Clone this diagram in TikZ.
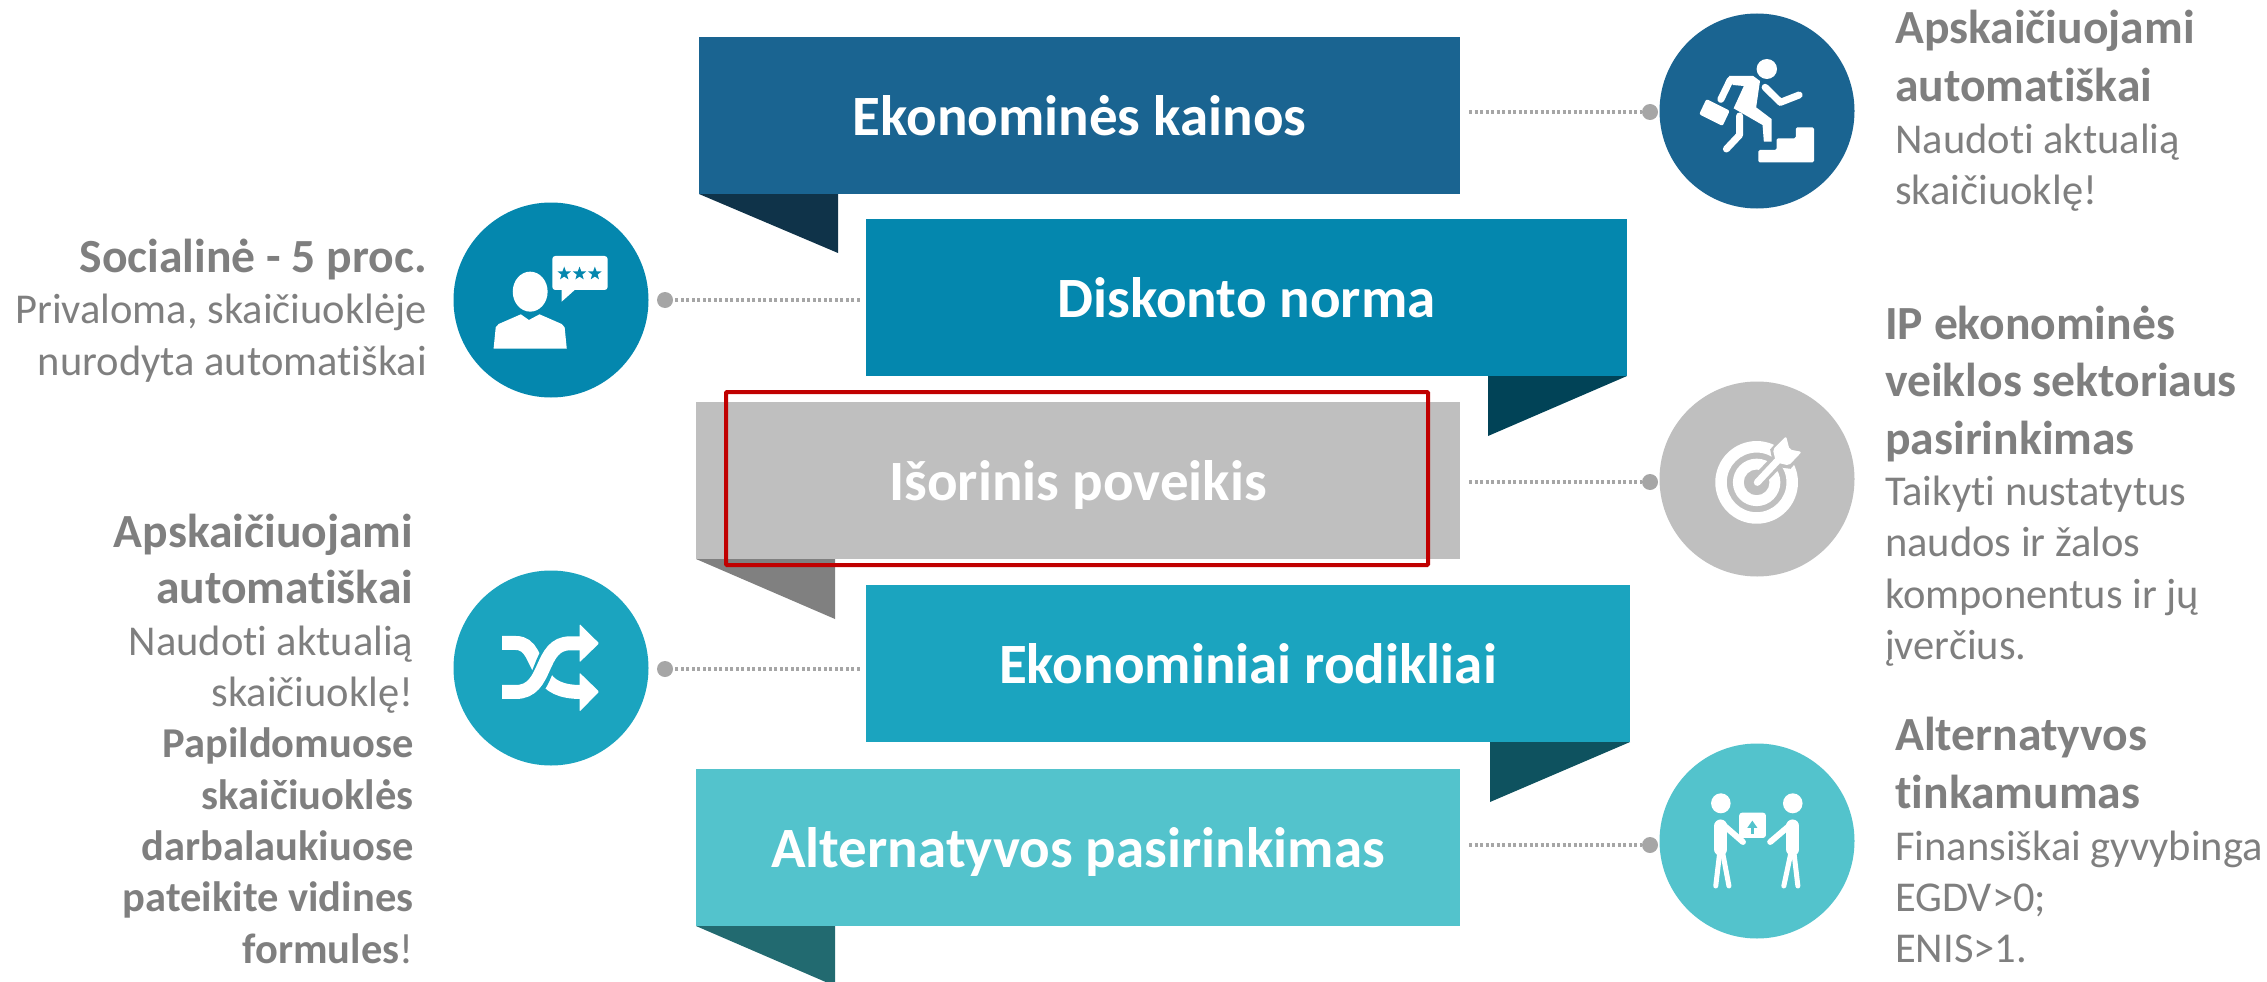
\documentclass[tikz,border=0pt]{standalone}
\usepackage{fontspec}
\setmainfont[Ligatures=NoCommon]{Carlito}
\usetikzlibrary{shapes.geometric}
\definecolor{cA}{HTML}{1A6491}
\definecolor{cB}{HTML}{0487AE}
\definecolor{cC}{HTML}{BFBFBF}
\definecolor{cD}{HTML}{1BA4BF}
\definecolor{cE}{HTML}{53C3CC}
\definecolor{tA}{HTML}{0F3349}
\definecolor{tB}{HTML}{014357}
\definecolor{tC}{HTML}{808080}
\definecolor{tD}{HTML}{0E525F}
\definecolor{tE}{HTML}{226A70}
\definecolor{txtgray}{HTML}{7F7F7F}
\definecolor{dotgray}{HTML}{A6A6A6}
\definecolor{redbox}{HTML}{C00000}
\newcommand{\hd}[1]{{\fontsize{47.6}{51}\selectfont\bfseries #1}}
\tikzset{
 band/.style={rectangle,inner sep=0pt,text=white,font=\fontsize{57}{60}\selectfont\bfseries,text height=49pt,text depth=10pt,align=center},
 disc/.style={circle,inner sep=0pt,minimum size=195pt},
 enddot/.style={circle,fill=dotgray,inner sep=0pt,minimum size=16pt},
 dotline/.style={draw=dotgray,line width=4pt,dash pattern=on 3pt off 2.5pt},
 sidetext/.style={font=\fontsize{42.5}{51.3}\selectfont,text=txtgray,inner sep=0pt},
 ico/.style={fill=white,draw=none},
 limb/.style={draw=white,line cap=round,line join=round}
}
\begin{document}
\begin{tikzpicture}[x=1pt,y=-1pt]
\useasboundingbox (0,0) rectangle (2267,982);
% ribbon tails
\fill[tA] (699,194) -- (838,194) -- (838,253) -- cycle;
\fill[tB] (1488,376) -- (1627,376) -- (1488,436) -- cycle;
\fill[tC] (696,559) -- (835,559) -- (835,619) -- cycle;
\fill[tD] (1490,742) -- (1630,742) -- (1490,802) -- cycle;
\fill[tE] (696,926) -- (835,926) -- (835,986) -- cycle;
% ribbons
\node[band,fill=cA,minimum width=761pt,minimum height=157pt] (b1) at (1079.5,115.5) {Ekonominės kainos};
\node[band,fill=cB,minimum width=761pt,minimum height=157pt] (b2) at (1246.5,297.5) {Diskonto norma};
\node[band,fill=cC,minimum width=764pt,minimum height=157pt] (b3) at (1078,480.5) {Išorinis poveikis};
\node[band,fill=cD,minimum width=764pt,minimum height=157pt] (b4) at (1248,663.5) {Ekonominiai rodikliai};
\node[band,fill=cE,minimum width=764pt,minimum height=157pt] (b5) at (1078,847.5) {Alternatyvos pasirinkimas};
% discs
\node[disc,fill=cA] (c1) at (1757,111) {};
\node[disc,fill=cB] (c2) at (551,300) {};
\node[disc,fill=cC] (c3) at (1757,479) {};
\node[disc,fill=cD] (c4) at (551,668) {};
\node[disc,fill=cE] (c5) at (1757,841) {};
% end dots
\node[enddot] (d1) at (1650,112) {};
\node[enddot] (d2) at (665,300) {};
\node[enddot] (d3) at (1650,482) {};
\node[enddot] (d4) at (665,669) {};
\node[enddot] (d5) at (1650,845) {};
\draw[dotline] ([xshift=9pt]b1.east |- d1) -- (d1);
\draw[dotline] ([xshift=-6pt]b2.west |- d2) -- (d2);
\draw[dotline] ([xshift=9pt]b3.east |- d3) -- (d3);
\draw[dotline] ([xshift=-6pt]b4.west |- d4) -- (d4);
\draw[dotline] ([xshift=9pt]b5.east |- d5) -- (d5);
% red frame
\draw[draw=redbox,line width=4pt,rounded corners=1pt] (726,392) rectangle (1428,565);
% runner
\begin{scope}[shift={(1600,0)},x=0.4255pt,y=-0.3333pt]
\fill[ico] (392,207) ellipse [x radius=24,y radius=30];
\fill[ico] (303,228) -- (360,228) -- (376,243) -- (367,322) -- (403,357) -- (403,425) -- (385,425) -- (382,375) -- (314,325) -- (338,258) -- (312,255) -- cycle;
\draw[limb,line width=7pt] (306,240) -- (284,298);
\draw[limb,line width=7pt] (388,262) -- (424,307) -- (468,285);
\draw[limb,line width=7pt] (328,348) -- (328,405) -- (297,447);
\fill[ico,rounded corners=2pt] (250,297) -- (305,332) -- (288,378) -- (233,343) -- cycle;
\fill[ico,rounded corners=1.5pt] (372,450) -- (415,450) -- (415,415) -- (460,415) -- (460,382) -- (503,382) -- (503,487) -- (372,487) -- cycle;
\end{scope}
% speaker with rating
\begin{scope}[shift={(0,180)},x=0.4255pt,y=-0.3333pt]
\fill[ico] (1246,335) ellipse [x radius=41,y radius=60];
\fill[ico] (1160,506) -- (1165,442) -- (1172,432) -- (1224,403) -- (1243,420) -- (1268,403) -- (1320,432) -- (1327,442) -- (1332,506) -- cycle;
\fill[ico,rounded corners=3pt] (1298,228) rectangle (1428,330);
\fill[ico] (1320,325) -- (1320,365) -- (1355,325) -- cycle;
\node[star,star points=5,star point ratio=2.4,fill=cB,inner sep=0pt,minimum size=14pt] (s1) at (1326,281) {};
\node[star,star points=5,star point ratio=2.4,fill=cB,inner sep=0pt,minimum size=14pt] (s2) at (1362,281) {};
\node[star,star points=5,star point ratio=2.4,fill=cB,inner sep=0pt,minimum size=14pt] (s3) at (1398,281) {};
\end{scope}
% target
\begin{scope}[shift={(1660,380)},x=0.339pt,y=-0.339pt]
\fill[ico,even odd rule] (285,302) circle [radius=122] (285,302) circle [radius=88] (285,302) circle [radius=70] (285,302) circle [radius=38];
\fill[cC] (325,205) -- (372,150) -- (430,210) -- (385,262) -- (335,255) -- cycle;
\draw[draw=cC,line width=14pt,line cap=round] (285,302) -- (345,240);
\draw[limb,line width=7pt] (287,302) -- (345,240);
\fill[ico,rounded corners=2pt] (333,205) -- (372,166) -- (382,205) -- (418,212) -- (380,252) -- (342,243) -- cycle;
\end{scope}
% shuffle
\begin{scope}[shift={(0,490)},x=0.4255pt,y=-0.3333pt]
\draw[draw=white,line width=14pt] (1180,459) -- (1212,459) .. controls (1250,459) and (1252,510) .. (1275,550) .. controls (1290,590) and (1320,606) .. (1365,606);
\draw[draw=cD,line width=20pt] (1225,606) .. controls (1290,606) and (1265,460) .. (1340,460);
\draw[draw=white,line width=14pt] (1180,606) -- (1212,606) .. controls (1290,606) and (1265,460) .. (1340,460) -- (1365,460);
\fill[ico,rounded corners=1pt] (1362,402) -- (1408,460) -- (1362,517) -- cycle;
\fill[ico,rounded corners=1pt] (1362,548) -- (1408,605) -- (1362,665) -- cycle;
\end{scope}
% hand-over
\begin{scope}[shift={(1600,500)},x=0.4255pt,y=-0.3333pt]
\fill[ico] (284,910) ellipse [x radius=23,y radius=30];
\fill[ico] (453,910) ellipse [x radius=23,y radius=30];
\draw[limb,line width=13pt] (284,978) -- (284,1048);
\draw[limb,line width=13pt] (453,978) -- (453,1048);
\draw[limb,line width=6pt] (290,975) -- (336,1026);
\draw[limb,line width=6pt] (447,975) -- (400,1026);
\draw[limb,line width=5pt] (282,1050) -- (272,1158);
\draw[limb,line width=5pt] (287,1050) -- (303,1158);
\draw[limb,line width=5pt] (450,1050) -- (432,1158);
\draw[limb,line width=5pt] (455,1050) -- (465,1158);
\fill[ico,rounded corners=3pt] (327,938) rectangle (390,1014);
\fill[cE] (358,962) -- (346,984) -- (370,984) -- cycle;
\fill[cE] (354,982) rectangle (362,1002);
\end{scope}
% side texts
\node[sidetext,anchor=north west,align=left] (t1) at (1895,10) {\hd{Apskaičiuojami}\\[7pt]\hd{automatiškai}\\Naudoti aktualią\\skaičiuoklę!};
\node[sidetext,anchor=north east,align=right] (t2) at (427,239) {\hd{Socialinė - 5 proc.}\\Privaloma, skaičiuoklėje\\nurodyta automatiškai};
\node[sidetext,anchor=north west,align=left] (t3) at (1885,306) {\hd{IP ekonominės}\\[6pt]\hd{veiklos sektoriaus}\\[6pt]\hd{pasirinkimas}\\Taikyti nustatytus\\naudos ir žalos\\komponentus ir jų\\įverčius.};
\node[sidetext,anchor=north east,align=right] (t4) at (413.5,514) {\hd{Apskaičiuojami}\\[5pt]\hd{automatiškai}\\Naudoti aktualią\\skaičiuoklę!\\\textbf{Papildomuose}\\\textbf{skaičiuoklės}\\\textbf{darbalaukiuose}\\\textbf{pateikite vidines}\\\textbf{formules}!};
\node[sidetext,anchor=north west,align=left] (t5) at (1895,717) {\hd{Alternatyvos}\\[7pt]\hd{tinkamumas}\\Finansiškai gyvybinga\\EGDV>0;\\ENIS>1.};
\end{tikzpicture}
\end{document}
